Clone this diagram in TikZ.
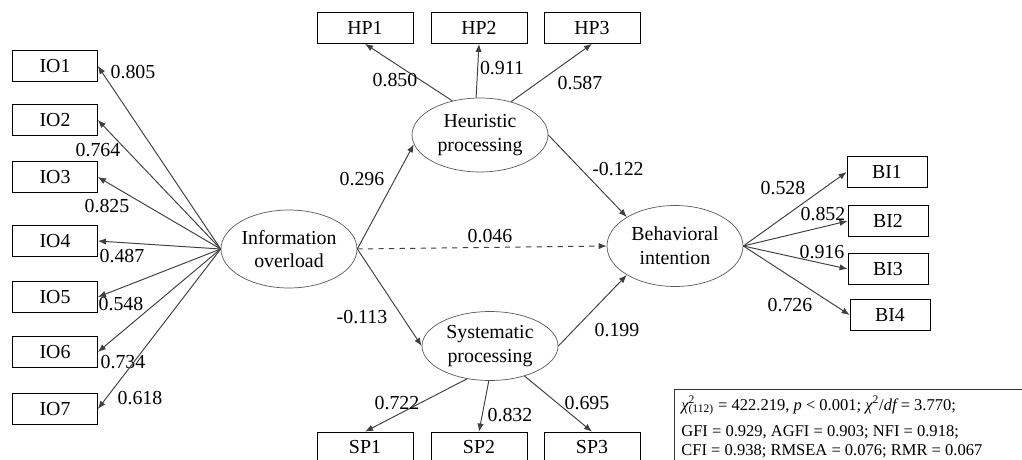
\documentclass[tikz,border=0pt]{standalone}
\usepackage{fontspec}
\setmainfont{Liberation Serif}
\usetikzlibrary{arrows.meta,shapes.geometric}

\begin{document}
\begin{tikzpicture}[x=0.02cm,y=-0.02cm,font=\fontsize{11.3}{13.5}\selectfont,
  ind/.style={draw,minimum height=0.62cm,inner sep=0pt},
  lat/.style={draw=black!65,ellipse,minimum width=2.72cm,inner sep=0pt,align=center},
  arr/.style={draw=black!75,line width=0.55pt,-{Latex[length=4.6pt,width=3.6pt]}},
  coef/.style={inner sep=0pt}]

\clip (0,0) rectangle (1022,460);

% latent constructs
\node[lat,minimum height=1.56cm] (io) at (289,249) {Information\\overload};
\node[lat,minimum height=1.48cm] (hp) at (480,135) {Heuristic\\processing};
\node[lat,minimum height=1.38cm] (sp) at (490,346) {Systematic\\processing};
\node[lat,minimum height=1.62cm] (bi) at (675,246) {Behavioral\\intention};

% information overload items
\foreach \y [count=\i] in {66,120,177,241,297,352,409}
  \node[ind,minimum width=1.7cm] (IO\i) at (55,\y) {IO\i};
\foreach \i/\v/\x/\y in {1/0.805/133/72, 2/0.764/98/150, 3/0.825/107/206,
    4/0.487/122/256, 5/0.548/121/304, 6/0.734/123/362, 7/0.618/140/398} {
  \draw[arr] (io.west) -- (IO\i.east);
  \node[coef] (c-io\i) at (\x,\y) {\v};
}

% heuristic items
\foreach \i/\x in {1/365,2/479,3/592}
  \node[ind,minimum width=1.92cm] (HP\i) at (\x,28) {HP\i};
\draw[arr] (hp.129) -- (HP1.south);
\draw[arr] (hp.96) -- (HP2.south);
\draw[arr] (hp.47) -- (HP3.south);
\node[coef] (c-hp1) at (395,80) {0.850};
\node[coef] (c-hp2) at (502,68) {0.911};
\node[coef] (c-hp3) at (580,83) {0.587};

% systematic items
\foreach \i/\x in {1/365,2/479,3/592}
  \node[ind,minimum width=1.92cm] (SP\i) at (\x,447.5) {SP\i};
\draw[arr] (sp.235) -- (SP1.north);
\draw[arr] (sp.268) -- (SP2.north);
\draw[arr] (sp.319) -- (SP3.north);
\node[coef] (c-sp1) at (397,403) {0.722};
\node[coef] (c-sp2) at (510,415) {0.832};
\node[coef] (c-sp3) at (587,403) {0.695};

% behavioral intention items
\foreach \i/\x/\y in {1/887/172, 2/888/221, 3/888/269, 4/890/315}
  \node[ind,minimum width=1.6cm] (BI\i) at (\x,\y) {BI\i};
\foreach \i/\v/\x/\y in {1/0.528/783/188, 2/0.852/823/214, 3/0.916/822/252, 4/0.726/790/305} {
  \draw[arr] (bi.east) -- (BI\i.west);
  \node[coef] (c-bi\i) at (\x,\y) {\v};
}

% structural paths
\draw[arr] (io.east) -- (hp.188);
\draw[arr] (io.east) -- (sp.west);
\draw[arr,dashed] (io.east) -- (bi.west);
\draw[arr] (hp.east) -- (bi.149);
\draw[arr] (sp.east) -- (bi.211);
\node[coef] (c-iohp) at (362,179) {0.296};
\node[coef] (c-iosp) at (362,317) {-0.113};
\node[coef] (c-iobi) at (490,236) {0.046};
\node[coef] (c-hpbi) at (618,169) {-0.122};
\node[coef] (c-spbi) at (617,330) {0.199};

% model fit
\draw[black!80,line width=0.55pt] (674,389) rectangle (1040,480);
\begin{scope}[every node/.style={anchor=base west,inner sep=0pt,font=\fontsize{9.4}{11}\selectfont}]
\node (fit1) at (681,410) {{\itshape χ}\rlap{\textsuperscript{2}}\textsubscript{(112)} = 422.219, {\itshape p} < 0.001; {\itshape χ}\textsuperscript{2}/{\itshape df} = 3.770;};
\node (fit2) at (681,436) {GFI = 0.929, AGFI = 0.903; NFI = 0.918;};
\node (fit3) at (681,455) {CFI = 0.938; RMSEA = 0.076; RMR = 0.067};
\end{scope}

\end{tikzpicture}
\end{document}
